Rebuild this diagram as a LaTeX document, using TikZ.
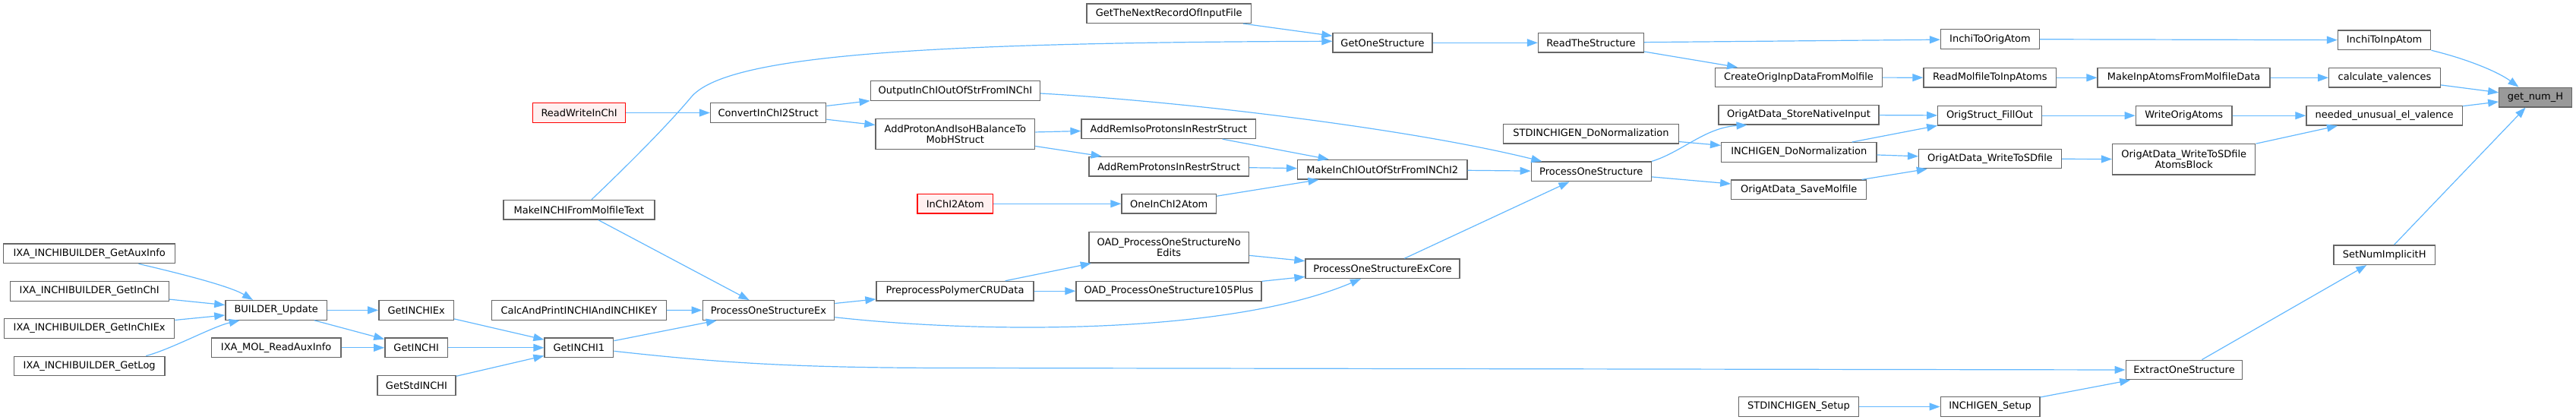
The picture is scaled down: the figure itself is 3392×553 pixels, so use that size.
\documentclass[tikz,border=0pt]{standalone}
\usepackage{fontspec}
\setmainfont{DejaVu Sans}
\usetikzlibrary{arrows.meta}
\definecolor{edgeblue}{HTML}{63B8FF}
\definecolor{ndborder}{HTML}{666666}
\definecolor{rootfill}{HTML}{999999}
\definecolor{redfill}{HTML}{FFF0F0}
\begin{document}
\begin{tikzpicture}[x=1pt,y=-1pt,
  nd/.style={draw=ndborder, line width=1.3pt, fill=white, rectangle, inner sep=0pt,
    minimum height=25.6pt, align=center, font=\fontsize{13}{14}\selectfont, text=black},
  ndtwo/.style={nd, minimum height=40.4pt},
  rednd/.style={nd, draw=red, fill=redfill},
  rootnd/.style={nd, fill=rootfill},
  edge/.style={draw=edgeblue, line width=1.2pt, -{Triangle[length=14pt,width=10pt]}, edgeblue}]
\useasboundingbox (0,0) rectangle (3392,553);
\node[nd, minimum width=216.4pt] (gtnr) at (1539.2,17.7) {GetTheNextRecordOfInputFile};
\node[nd, minimum width=131pt] (gos) at (1820.5,56.3) {GetOneStructure};
\node[nd, minimum width=139pt] (rts) at (2095,56.3) {ReadTheStructure};
\node[nd, minimum width=130pt] (itoa) at (2620.5,51.6) {InchiToOrigAtom};
\node[nd, minimum width=122.3pt] (itia) at (3139.6,52.8) {InchiToInpAtom};
\node[nd, minimum width=219.8pt] (coid) at (2368.5,102) {CreateOrigInpDataFromMolfile};
\node[nd, minimum width=174.6pt] (rmtia) at (2620.3,102.3) {ReadMolfileToInpAtoms};
\node[nd, minimum width=227pt] (miafm) at (2875.6,102.3) {MakeInpAtomsFromMolfileData};
\node[nd, minimum width=146.7pt] (cv) at (3140,102.3) {calculate\_valences};
\node[rootnd, minimum width=95.5pt] (gnh) at (3338.5,128.1) {get\_num\_H};
\node[nd, minimum width=223.3pt] (oio) at (1257.9,119.5) {OutputInChIOutOfStrFromINChI};
\node[rednd, minimum width=122.3pt] (rwi) at (762.6,148.5) {ReadWriteInChI};
\node[nd, minimum width=152.2pt] (ci2s) at (1011.6,148.5) {ConvertInChI2Struct};
\node[nd, minimum width=211pt] (oasni) at (2368.5,151.2) {OrigAtData\_StoreNativeInput};
\node[nd, minimum width=136.5pt] (osfo) at (2620,152.2) {OrigStruct\_FillOut};
\node[nd, minimum width=126.8pt] (woa) at (2875.7,152.2) {WriteOrigAtoms};
\node[nd, minimum width=205.3pt] (nuev) at (3139.6,152.2) {needed\_unusual\_el\_valence};
\node[ndtwo, minimum width=209.6pt] (apih) at (1257.8,176.5) {AddProtonAndIsoHBalanceTo\\MobHStruct};
\node[nd, minimum width=229.7pt] (ariso) at (1538.9,169.7) {AddRemIsoProtonsInRestrStruct};
\node[nd, minimum width=230.7pt] (sdn) at (2095,176.3) {STDINCHIGEN\_DoNormalization};
\node[nd, minimum width=204.4pt] (idn) at (2368.8,200.5) {INCHIGEN\_DoNormalization};
\node[nd, minimum width=187.7pt] (oawsd) at (2620.5,209) {OrigAtData\_WriteToSDfile};
\node[ndtwo, minimum width=188.2pt] (oawsdab) at (2875.7,209.8) {OrigAtData\_WriteToSDfile\\AtomsBlock};
\node[nd, minimum width=210.7pt] (arp) at (1539.2,219.2) {AddRemProtonsInRestrStruct};
\node[nd, minimum width=223.4pt] (mio2) at (1820.3,223.2) {MakeInChIOutOfStrFromINChI2};
\node[nd, minimum width=158pt] (pos) at (2095.3,225.9) {ProcessOneStructure};
\node[nd, minimum width=178pt] (oasm) at (2368.8,249.9) {OrigAtData\_SaveMolfile};
\node[rednd, minimum width=99.5pt] (i2a) at (1257.8,268.3) {InChI2Atom};
\node[nd, minimum width=124.5pt] (oi2a) at (1539.2,268.3) {OneInChI2Atom};
\node[nd, minimum width=199pt] (mifmt) at (762.5,276.2) {MakeINCHIFromMolfileText};
\node[ndtwo, minimum width=210.7pt] (oadne) at (1539.2,325.9) {OAD\_ProcessOneStructureNo\\Edits};
\node[nd, minimum width=226.2pt] (ixaai) at (117.7,333.9) {IXA\_INCHIBUILDER\_GetAuxInfo};
\node[nd, minimum width=133.7pt] (snih) at (3139.7,335.7) {SetNumImplicitH};
\node[nd, minimum width=203pt] (posec) at (1820.5,353.7) {ProcessOneStructureExCore};
\node[nd, minimum width=207pt] (ppcru) at (1257.5,383.2) {PreprocessPolymerCRUData};
\node[nd, minimum width=244pt] (oad105) at (1539,383.2) {OAD\_ProcessOneStructure105Plus};
\node[nd, minimum width=209pt] (ixagi) at (117.7,383.4) {IXA\_INCHIBUILDER\_GetInChI};
\node[nd, minimum width=133.7pt] (bu) at (363.7,408.4) {BUILDER\_Update};
\node[nd, minimum width=98.7pt] (gix) at (548.2,408.4) {GetINCHIEx};
\node[nd, minimum width=229.7pt] (capik) at (762.4,408.4) {CalcAndPrintINCHIAndINCHIKEY};
\node[nd, minimum width=173.4pt] (pose) at (1011.9,408.5) {ProcessOneStructureEx};
\node[nd, minimum width=223.9pt] (ixagix) at (117.7,432.5) {IXA\_INCHIBUILDER\_GetInChIEx};
\node[nd, minimum width=170.5pt] (ixamol) at (363.7,457.8) {IXA\_MOL\_ReadAuxInfo};
\node[nd, minimum width=82.7pt] (gi) at (548.2,457.8) {GetINCHI};
\node[nd, minimum width=90.7pt] (gi1) at (762.4,457.8) {GetINCHI1};
\node[nd, minimum width=198.6pt] (ixagl) at (117.7,482) {IXA\_INCHIBUILDER\_GetLog};
\node[nd, minimum width=153.6pt] (eos) at (2876,487) {ExtractOneStructure};
\node[nd, minimum width=103pt] (gsi) at (548.5,507.4) {GetStdINCHI};
\node[nd, minimum width=158pt] (sds) at (2368.5,535.5) {STDINCHIGEN\_Setup};
\node[nd, minimum width=130.8pt] (ids) at (2620.6,535.5) {INCHIGEN\_Setup};
% edges
\draw[edge] (gtnr) -- (gos);
\draw[edge] ([xshift=16.5pt]mifmt.north) .. controls (850,195) and (890,152) .. (910,128) .. controls (955,74) and (1200,56) .. ([yshift=2pt]gos.west);
\draw[edge] (gos) -- (rts);
\draw[edge] (rts) -- (itoa);
\draw[edge] (rts) -- (coid);
\draw[edge] (coid) -- (rmtia);
\draw[edge] (rmtia) -- (miafm);
\draw[edge] (miafm) -- (cv);
\draw[edge] (cv) -- (gnh);
\draw[edge] (itoa) -- (itia);
\draw[edge] (itia.south east) .. controls (3250,78) and (3290,95) .. ([xshift=-22pt]gnh.north);
\draw[edge] (nuev) -- (gnh);
\draw[edge] (snih) -- (gnh);
\draw[edge] (eos) -- (snih);
\draw[edge] (ids) -- (eos);
\draw[edge] (sds) -- (ids);
\draw[edge] ([yshift=-4.5pt]gi1.east) .. controls (950,478) and (1050,484.3) .. (1250,484.5) -- (eos.west);
\draw[edge] (woa) -- (nuev);
\draw[edge] (oawsdab) -- (nuev);
\draw[edge] (osfo) -- (woa);
\draw[edge] (oawsd) -- (oawsdab);
\draw[edge] (oasni) -- (osfo);
\draw[edge] (idn) -- (osfo);
\draw[edge] (idn) -- (oawsd);
\draw[edge] (oasm) -- (oawsd);
\draw[edge] (sdn) -- (idn);
\draw[edge] (pos.north east) .. controls (2215,200) and (2245,168) .. ([xshift=-68pt]oasni.south);
\draw[edge] (pos) -- (oasm);
\draw[edge] (mio2) -- (pos);
\draw[edge] ([yshift=-3.5pt]oio.east) .. controls (1550,133) and (1850,168) .. ([xshift=-65pt]pos.north);
\draw[edge] (ariso) -- (mio2);
\draw[edge] (arp) -- (mio2);
\draw[edge] (oi2a) -- (mio2);
\draw[edge] (i2a) -- (oi2a);
\draw[edge] (apih) -- (ariso);
\draw[edge] (apih) -- (arp);
\draw[edge] (ci2s) -- (oio);
\draw[edge] (ci2s) -- (apih);
\draw[edge] (rwi) -- (ci2s);
\draw[edge] (mifmt) -- (pose);
\draw[edge] (capik) -- (pose);
\draw[edge] (gi1) -- (pose);
\draw[edge] (pose) -- (ppcru);
\draw[edge] ([yshift=-9.2pt]pose.east) .. controls (1300,440) and (1620,440) .. ([xshift=-28.5pt]posec.south);
\draw[edge] (ppcru) -- (oadne);
\draw[edge] (ppcru) -- (oad105);
\draw[edge] (oadne) -- (posec);
\draw[edge] (oad105) -- (posec);
\draw[edge] (posec) -- (pos);
\draw[edge] ([xshift=64.8pt]ixaai.south) .. controls (215,355) and (300,375) .. ([xshift=-30.7pt]bu.north);
\draw[edge] (ixagi) -- (bu);
\draw[edge] (ixagix) -- (bu);
\draw[edge] ([xshift=74.6pt]ixagl.north) .. controls (225,460) and (280,430) .. ([xshift=-48pt]bu.south);
\draw[edge] (bu) -- (gix);
\draw[edge] (bu) -- (gi);
\draw[edge] (ixamol) -- (gi);
\draw[edge] (gix) -- (gi1);
\draw[edge] (gi) -- (gi1);
\draw[edge] (gsi) -- (gi1);
\end{tikzpicture}
\end{document}
